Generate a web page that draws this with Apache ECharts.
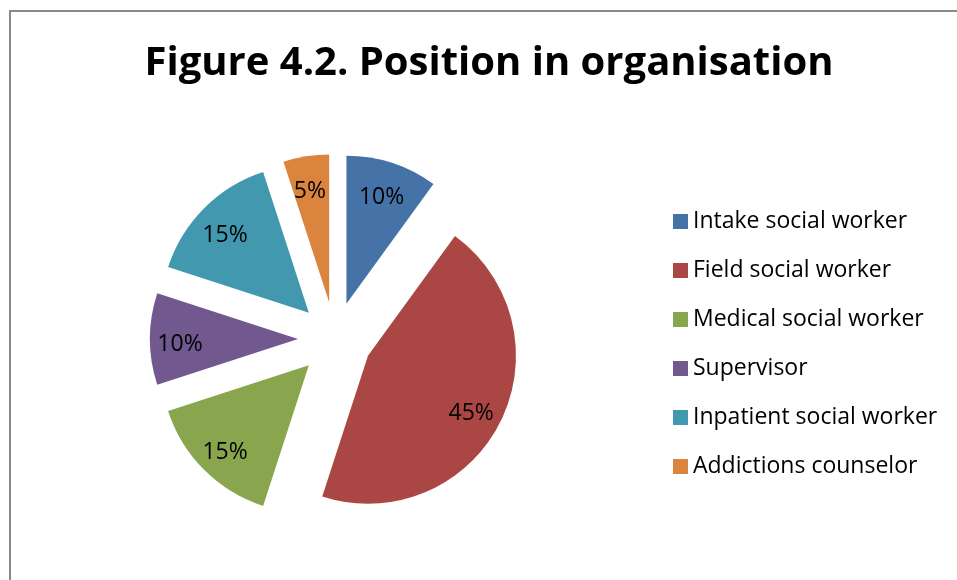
<!DOCTYPE html>
<html>
<head>
<meta charset="utf-8">
<title>Position in organisation</title>
<script src="https://cdn.jsdelivr.net/npm/echarts@6/dist/echarts.min.js"></script>
<style>
  html, body { margin: 0; padding: 0; background: #fff; }
  #container-position { width: 957px; height: 580px; }
</style>
</head>
<body>
<div id="container-position"></div>
<script>
// data
var categories = ['Intake social worker', 'Field social worker', 'Medical social worker',
                  'Supervisor', 'Inpatient social worker', 'Addictions counselor'];
var shares = [10, 45, 15, 10, 15, 5];
var colors = ['#4572A7', '#AA4643', '#89A54E', '#71588F', '#4198AF', '#DB843D'];

var dom = document.getElementById("container-position");
var myChart = echarts.init(dom);
var option = null;

// every slice pulled out the same distance (exploded pie)
var sliceData = categories.map(function (name, i) {
    return { value: shares[i], name: name, selected: true, itemStyle: { color: colors[i] } };
});
var labelData = categories.map(function (name, i) {
    return { value: shares[i], name: name, selected: true };
});

option = {
    animation: false,
    color: colors,
    title: {
        text: 'Figure 4.2. Position in organisation',
        left: 484,
        top: 39,
        textAlign: 'center',
        textStyle: {
            fontFamily: 'Open Sans',
            fontWeight: 'bold',
            fontSize: 40,
            color: '#000'
        }
    },
    legend: {
        orient: 'vertical',
        left: 673,
        top: 210,
        padding: 0,
        icon: 'rect',
        itemWidth: 15,
        itemHeight: 15,
        itemGap: 26,
        selectedMode: false,
        data: categories,
        textStyle: {
            fontFamily: 'Open Sans',
            fontSize: 23,
            lineHeight: 22,
            color: '#000'
        }
    },
    graphic: [
        {
            type: 'rect',
            z: -10,
            silent: true,
            shape: { x: 10, y: 11, width: 2000, height: 2000 },
            style: { fill: 'none', stroke: '#888', lineWidth: 2 }
        }
    ],
    series: [
        {
            name: 'Position',
            type: 'pie',
            center: [335, 339],
            radius: 148,
            startAngle: 90,
            selectedMode: 'multiple',
            selectedOffset: 37,
            label: { show: false },
            labelLine: { show: false },
            select: { itemStyle: { borderWidth: 0 } },
            data: sliceData
        },
        {
            // transparent copy that only carries the percentage labels
            name: 'Labels',
            type: 'pie',
            center: [334, 344],
            radius: [80, 148],
            startAngle: 90,
            silent: true,
            legendHoverLink: false,
            selectedMode: 'multiple',
            selectedOffset: 37,
            itemStyle: { color: 'rgba(0,0,0,0)' },
            select: { itemStyle: { color: 'rgba(0,0,0,0)', borderWidth: 0 } },
            label: {
                show: true,
                position: 'inside',
                formatter: '{c}%',
                fontFamily: 'Open Sans',
                fontSize: 23,
                color: '#000'
            },
            labelLine: { show: false },
            data: labelData
        }
    ]
};

if (option && typeof option === "object") {
    myChart.setOption(option, true);
}
</script>
</body>
</html>
